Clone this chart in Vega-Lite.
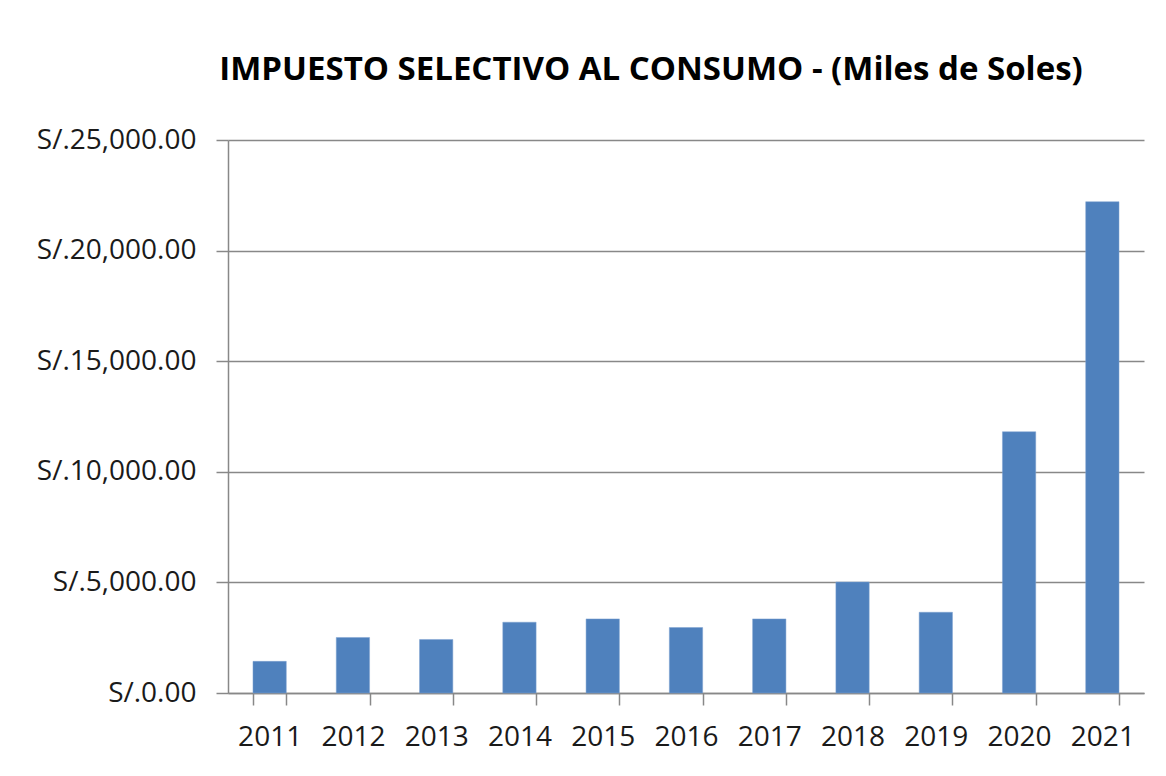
{
  "$schema": "https://vega.github.io/schema/vega-lite/v6.json",
  "autosize": "none",
  "width": 916,
  "height": 553,
  "padding": {"left": 228, "top": 140, "right": 22, "bottom": 83},
  "background": "white",
  "title": {
    "text": "IMPUESTO SELECTIVO AL CONSUMO - (Miles de Soles)",
    "font": "Open Sans",
    "fontSize": 33,
    "fontWeight": "bold",
    "color": "#000000",
    "anchor": "middle",
    "dx": -35,
    "offset": 39
  },
  "data": {
    "values": [
      {"year": "2011", "value": 1430},
      {"year": "2012", "value": 2510},
      {"year": "2013", "value": 2420},
      {"year": "2014", "value": 3200},
      {"year": "2015", "value": 3350},
      {"year": "2016", "value": 2960},
      {"year": "2017", "value": 3350},
      {"year": "2018", "value": 5020},
      {"year": "2019", "value": 3650},
      {"year": "2020", "value": 11810},
      {"year": "2021", "value": 22210}
    ]
  },
  "mark": {"type": "bar", "color": "#4F81BD", "stroke": "#7fa3d1", "strokeWidth": 0.5},
  "encoding": {
    "x": {
      "field": "year",
      "type": "ordinal",
      "scale": {"paddingInner": 0.6, "paddingOuter": 0.3},
      "axis": {
        "title": null,
        "labelAngle": 0,
        "labelFont": "Open Sans",
        "labelFontSize": 28,
        "labelColor": "#1a1a1a",
        "labelPadding": 18,
        "tickBand": "extent",
        "tickSize": 12,
        "tickColor": "#888888",
        "tickWidth": 1.5,
        "domainColor": "#888888",
        "domainWidth": 1.5,
        "grid": false
      }
    },
    "y": {
      "field": "value",
      "type": "quantitative",
      "scale": {"domain": [0, 25000], "nice": false},
      "axis": {
        "title": null,
        "values": [0, 5000, 10000, 15000, 20000, 25000],
        "labelExpr": "'S/.' + format(datum.value, ',.2f')",
        "labelFont": "Open Sans",
        "labelFontSize": 28,
        "labelColor": "#1a1a1a",
        "labelPadding": 20,
        "tickSize": 12,
        "tickColor": "#888888",
        "tickWidth": 1.5,
        "domainColor": "#888888",
        "domainWidth": 1.5,
        "grid": true,
        "gridColor": "#888888",
        "gridWidth": 1.5
      }
    }
  },
  "config": {"view": {"stroke": null}}
}
